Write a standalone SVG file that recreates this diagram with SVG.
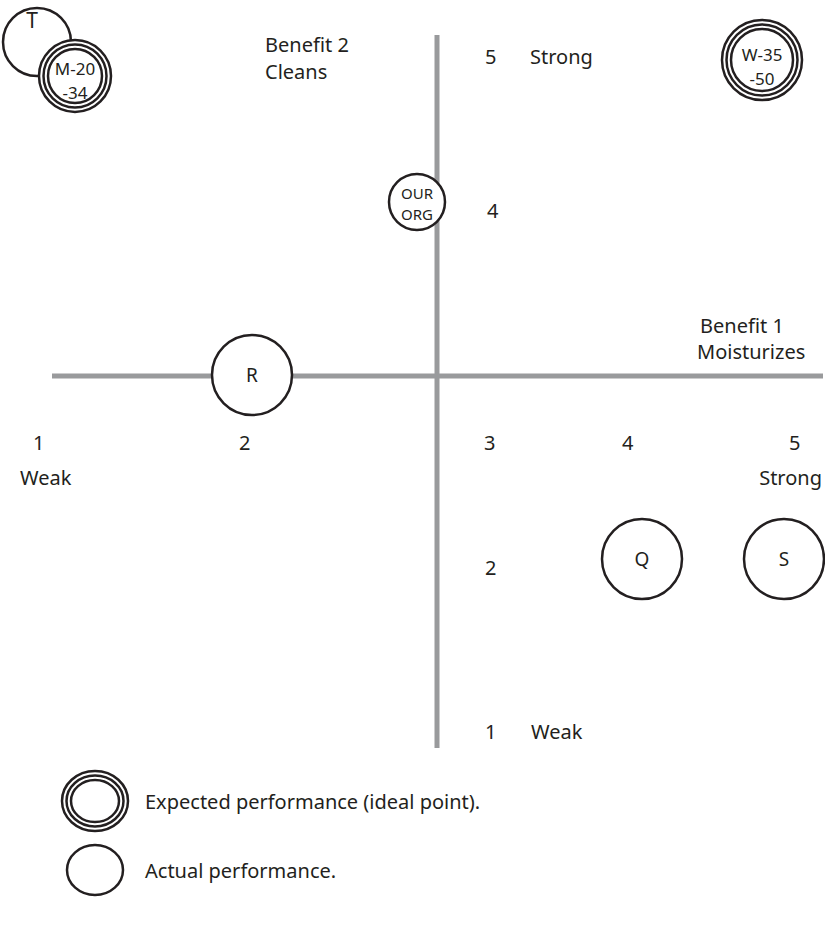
<svg xmlns="http://www.w3.org/2000/svg" width="825" height="931" viewBox="0 0 825 931">
  <style>
    .axis { stroke: #999a9c; stroke-width: 5; fill: none; }
    .ring { fill: #ffffff; stroke: #231f20; stroke-width: 2.5; }
    .lbl { font-family: "Noto Sans", "Open Sans", sans-serif; font-size: 20px; fill: #231f20; }
    .node { font-family: "Noto Sans", "Open Sans", sans-serif; font-size: 19px; fill: #231f20; text-anchor: middle; }
    .node2 { font-size: 17px; }
    .node3 { font-size: 15px; }
  </style>
  <rect width="825" height="931" fill="#ffffff"/>

  <!-- axes -->
  <g id="axes">
    <line class="axis" x1="52" y1="376" x2="823" y2="376"/>
    <line class="axis" x1="437" y1="35" x2="437" y2="748"/>
  </g>

  <!-- axis labels -->
  <g id="labels">
    <text class="lbl" x="265" y="52">Benefit 2</text>
    <text class="lbl" x="265" y="79">Cleans</text>
    <text class="lbl" x="485" y="64">5</text>
    <text class="lbl" x="530" y="64">Strong</text>
    <text class="lbl" x="487" y="218">4</text>
    <text class="lbl" x="700" y="333">Benefit 1</text>
    <text class="lbl" x="697" y="359">Moisturizes</text>
    <text class="lbl" x="33" y="450">1</text>
    <text class="lbl" x="20" y="485">Weak</text>
    <text class="lbl" x="239" y="450">2</text>
    <text class="lbl" x="484" y="450">3</text>
    <text class="lbl" x="622" y="450">4</text>
    <text class="lbl" x="789" y="450">5</text>
    <text class="lbl" x="822" y="485" text-anchor="end">Strong</text>
    <text class="lbl" x="485" y="575">2</text>
    <text class="lbl" x="485" y="739">1</text>
    <text class="lbl" x="531" y="739">Weak</text>
  </g>

  <!-- competitors -->
  <g id="node-t">
    <circle class="ring" cx="37" cy="42" r="34"/>
    <text class="node" x="32" y="28" style="font-size:21px">T</text>
  </g>
  <g id="node-m">
    <circle class="ring" cx="75" cy="76" r="36"/>
    <circle class="ring" cx="75" cy="76" r="31.5"/>
    <circle class="ring" cx="75" cy="76" r="27"/>
    <text class="node node2" x="75" y="75">M-20</text>
    <text class="node node2" x="75" y="98.5">-34</text>
  </g>
  <g id="node-w">
    <circle class="ring" cx="762" cy="60" r="40"/>
    <circle class="ring" cx="762" cy="60" r="35.5"/>
    <circle class="ring" cx="762" cy="60" r="31"/>
    <text class="node node2" x="762" y="61">W-35</text>
    <text class="node node2" x="762" y="84.5">-50</text>
  </g>
  <g id="node-our">
    <circle class="ring" cx="417" cy="202" r="28"/>
    <text class="node node3" x="417" y="199">OUR</text>
    <text class="node node3" x="417" y="219.5">ORG</text>
  </g>
  <g id="node-r">
    <circle class="ring" cx="252" cy="375" r="40"/>
    <text class="node" x="252" y="382">R</text>
  </g>
  <g id="node-q">
    <circle class="ring" cx="642" cy="559" r="40"/>
    <text class="node" x="642" y="566">Q</text>
  </g>
  <g id="node-s">
    <circle class="ring" cx="784" cy="559" r="40"/>
    <text class="node" x="784" y="566">S</text>
  </g>

  <!-- legend -->
  <g id="legend-expected">
    <ellipse class="ring" cx="95" cy="801" rx="33" ry="30"/>
    <ellipse class="ring" cx="95" cy="801" rx="28.5" ry="25.5"/>
    <ellipse class="ring" cx="95" cy="801" rx="24" ry="21"/>
    <text class="lbl" x="145" y="809">Expected performance (ideal point).</text>
  </g>
  <g id="legend-actual">
    <ellipse class="ring" cx="95" cy="870" rx="28" ry="25"/>
    <text class="lbl" x="145" y="878">Actual performance.</text>
  </g>
</svg>
